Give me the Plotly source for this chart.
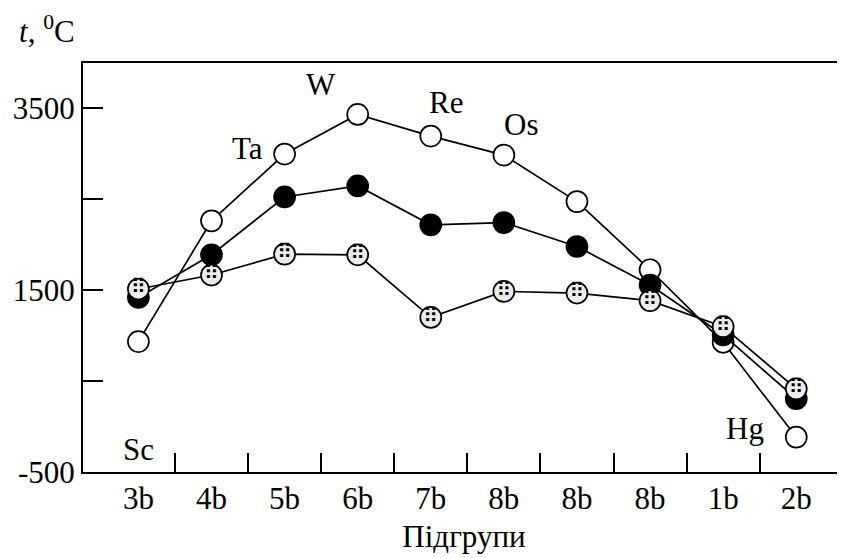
import plotly.graph_objects as go

# ---- data ----
subgroups = ["3b", "4b", "5b", "6b", "7b", "8b", "8b", "8b", "1b", "2b"]
period6_open = [935, 2263, 2998, 3434, 3196, 2987, 2475, 1725, 927, -116]
period5_filled = [1421, 1890, 2526, 2647, 2219, 2244, 1981, 1557, 1008, 306]
period4_dotted = [1513, 1667, 1897, 1890, 1201, 1487, 1469, 1385, 1099, 415]
y_major_vals = [-500, 1500, 3500]
y_major_text = ["-500", "1500", "3500"]
y_minor_vals = [500, 2500]
element_labels = ["Sc", "Ta", "W", "Re", "Os", "Hg"]
element_x = [0, 1.49, 2.5, 4.21, 5.23, 8.30]
element_y = [-250, 3064, 3767, 3569, 3328, -20]

x = list(range(len(subgroups)))
boundaries = [i + 0.5 for i in range(len(subgroups) - 1)]

FONT = "Liberation Serif"
FS = 31

fig = go.Figure()

line_style = dict(color="black", width=1.7)
msize = 21

fig.add_trace(go.Scatter(
    x=x, y=period6_open, mode="lines+markers",
    line=line_style,
    marker=dict(symbol="circle", size=msize, color="white",
                line=dict(color="black", width=1.7)),
    showlegend=False, cliponaxis=False))
fig.add_trace(go.Scatter(
    x=x, y=period5_filled, mode="lines+markers",
    line=line_style,
    marker=dict(symbol="circle", size=msize, color="black",
                line=dict(color="black", width=1.7)),
    showlegend=False, cliponaxis=False))
fig.add_trace(go.Scatter(
    x=x, y=period4_dotted, mode="lines+markers",
    line=line_style,
    marker=dict(symbol="circle", size=msize, color="#ececec",
                line=dict(color="black", width=1.7)),
    showlegend=False, cliponaxis=False))
# speckle texture on the dotted markers
fig.add_trace(go.Scatter(
    x=x, y=period4_dotted, mode="text",
    text=["⠿"] * len(x), textposition="middle center",
    textfont=dict(family="DejaVu Sans", size=21, color="black"),
    showlegend=False, hoverinfo="skip", cliponaxis=False))

for name, ex, ey in zip(element_labels, element_x, element_y):
    fig.add_annotation(x=ex, y=ey, text=name, showarrow=False,
                       font=dict(family=FONT, size=FS, color="black"),
                       xanchor="center", yanchor="middle")

fig.add_annotation(xref="paper", yref="paper", x=-0.087, y=1.081,
                   text="<i>t</i>, <sup>0</sup>C", showarrow=False,
                   xanchor="left", yanchor="middle",
                   font=dict(family=FONT, size=FS, color="black"))

# page body adds an 8px offset, so the figure is sized 8px smaller
fig.update_layout(
    width=837, height=550,
    margin=dict(l=75, r=0, t=55, b=86),
    paper_bgcolor="white", plot_bgcolor="white",
    font=dict(family=FONT, size=FS, color="black"),
    xaxis=dict(
        range=[-0.758, 9.667],
        tickvals=x, ticktext=subgroups, ticks="",
        showgrid=False, zeroline=False,
        showline=True, linecolor="black", linewidth=2, mirror=True,
        tickfont=dict(family=FONT, size=FS, color="black"),
        ticklabelstandoff=-2,
        minor=dict(tickvals=boundaries, ticks="inside", ticklen=19,
                   tickwidth=1.7, tickcolor="black", showgrid=False),
        title=dict(text="Підгрупи", font=dict(family=FONT, size=FS, color="black"),
                   standoff=10),
    ),
    yaxis=dict(
        range=[-500, 4000],
        tickvals=y_major_vals, ticktext=y_major_text,
        ticks="inside", ticklen=20, tickwidth=1.7, tickcolor="black",
        showgrid=False, zeroline=False,
        showline=True, linecolor="black", linewidth=2,
        tickfont=dict(family=FONT, size=FS, color="black"),
        ticklabelstandoff=0,
        minor=dict(tickvals=y_minor_vals, ticks="inside", ticklen=20,
                   tickwidth=1.7, tickcolor="black", showgrid=False),
    ),
)

fig.write_html("out.html")
